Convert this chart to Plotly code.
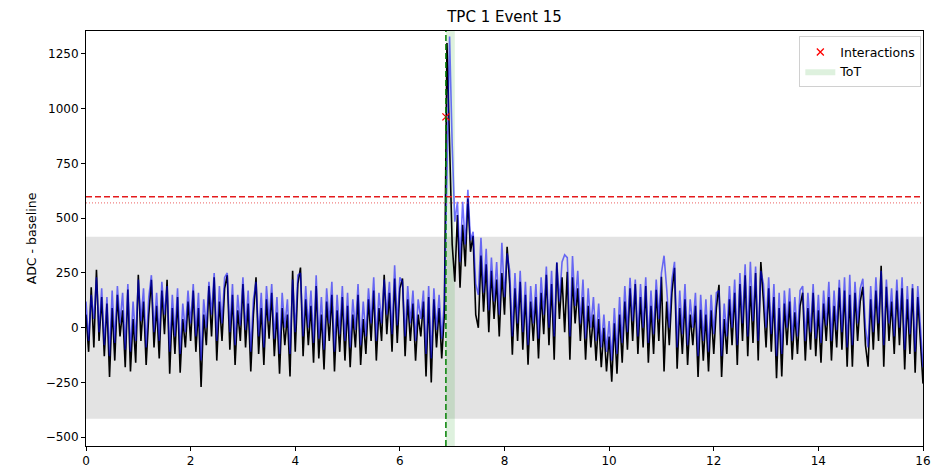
import plotly.graph_objects as go

# sampling of the waveform (µs)
t0 = 0.0
dt = 0.05

black_adc = [
    60, -110, 185, -90, 265, -60, 140, -130, 110, -225, 90, -150, 150, -40, 80, -180, 175, -200, 40, -160,
    242, -60, 120, -170, 60, 219, -90, 100, -140, 170, -30, 219, -210, 90, -120, 140, -205, 40, -90, 120,
    -60, 170, -110, 90, -270, 60, -80, 190, -40, 230, -150, 120, -60, 180, 240, -100, 150, -170, 80, -60,
    200, -90, 110, -200, 60, 230, -120, 90, -170, 130, -50, 160, -130, 70, -210, 90, -80, 60, -223, 260,
    -110, 200, 275, -130, 130, -80, 100, -160, 190, -140, 60, -190, 120, -60, 150, -200, 80, -110, 140, -150,
    100, -180, 60, -90, 150, -170, 40, -120, 130, -60, 170, -150, 90, -60, 242, -30, 160, -110, 225, -70,
    180, 225, -130, 130, -60, 110, -150, 60, -40, 120, -223, 140, -250, 130, -90, 90, -140, 60, 1300, 880,
    380, 210, 515, 183, 470, 280, 590, 347, 420, 60, 0, 330, 73, 290, -20, 260, 40, 220, -40, 250,
    60, 370, 200, -123, 180, -60, 210, -100, 150, -169, 120, -60, 140, -140, 160, -30, 242, -80, 200, -146,
    297, 40, 230, -20, 255, -146, 230, 20, 180, -60, 140, -146, 100, -90, 60, -150, 40, -180, 0, -200,
    -40, -246, 20, -210, 60, -160, 120, -100, 180, -60, 200, -120, 140, -90, 190, -160, 100, -120, 173, -60,
    233, -200, 120, -80, 160, 274, -187, 90, -120, 130, -170, 60, -80, 100, -225, 82, -150, 60, -200, 80,
    -120, 90, 196, -225, 40, -120, 130, -80, 160, -170, 200, -60, 240, -130, 190, -70, 250, -150, 300, 120,
    -90, 180, -110, 140, -230, 90, -223, 110, -80, 120, -146, 70, -120, 100, 160, -150, 90, -100, 160, -130,
    80, -160, 110, -60, 140, -150, 100, -90, 183, -100, 170, -178, 150, -178, 160, -60, 120, 187, -80, -178,
    130, -100, 170, -60, 283, -178, 187, -60, 120, -120, 170, -80, 180, -190, 130, -120, 180, -205, 140, -60,
    -255,
]

blue_adc = [
    120, -60, 150, 40, 230, -20, 180, -80, 140, -130, 170, -70, 190, 20, 160, -100, 200, -110, 120, -60,
    220, 30, 180, -90, 140, 240, -20, 160, -60, 210, 60, 190, -110, 150, -40, 180, -120, 110, -20, 170,
    20, 200, -40, 160, -150, 130, 0, 210, 60, 250, -60, 190, 20, 230, 250, -20, 200, -80, 150, 10,
    230, -10, 170, -110, 130, 210, -40, 160, -90, 190, 30, 200, -50, 140, -120, 160, 0, 130, -120, 220,
    -20, 240, 250, -40, 190, 0, 170, -70, 240, -50, 140, -100, 180, 20, 210, -110, 150, -30, 190, -60,
    160, -90, 130, -10, 200, -80, 120, -40, 180, 20, 230, -60, 160, 20, 220, 60, 210, -30, 285, 10,
    230, 210, -40, 190, 20, 170, -60, 130, 40, 170, -120, 190, -140, 180, -10, 150, -50, 120, 700, 1330,
    835, 484, 575, 300, 575, 380, 630, 400, 438, 200, 150, 411, 160, 360, 80, 320, 120, 300, 60, 388,
    140, 340, 260, -40, 250, 20, 260, -20, 210, -80, 190, 20, 200, -50, 230, 60, 280, 0, 260, -40,
    300, 120, 300, 333, 320, -40, 327, 100, 260, 20, 220, -50, 180, 0, 140, -60, 110, -90, 60, -110,
    30, -150, 90, -120, 140, -70, 190, -20, 228, 30, 220, -40, 200, 0, 230, -70, 170, -30, 220, 40,
    250, 329, 180, 0, 220, 301, -90, 170, -30, 200, -80, 130, 0, 160, -130, 150, -60, 130, -110, 150,
    -30, 160, 170, -130, 110, -40, 190, 0, 220, -80, 250, 20, 290, -40, 301, 30, 280, -60, 260, 200,
    0, 230, -30, 200, -130, 160, -120, 170, 0, 180, -60, 140, -40, 170, 190, -60, 160, -20, 200, -50,
    150, -70, 170, 10, 210, -60, 170, -10, 219, -20, 230, -90, 242, -80, 210, 20, 180, 224, 0, -90,
    190, -20, 230, 20, 260, -80, 220, 20, 180, -40, 220, 0, 230, -100, 190, -30, 200, -110, 190, 20,
    -180,
]

interaction_t = [6.88]
interaction_adc = [963]

tot_start = 6.88
tot_end = 7.05

noise_band = 415
threshold = 598
threshold_low = 570

x_range = [0, 16]
y_range = [-540, 1355]
x_ticks = [0, 2, 4, 6, 8, 10, 12, 14, 16]
y_ticks = [-500, -250, 0, 250, 500, 750, 1000, 1250]

font = "DejaVu Sans"

fig = go.Figure()

# ToT region (as a filled trace so it appears in the legend)
fig.add_trace(go.Scatter(
    x=[tot_start, tot_end, tot_end, tot_start, tot_start],
    y=[y_range[0], y_range[0], y_range[1], y_range[1], y_range[0]],
    fill="toself", fillcolor="rgba(0,150,0,0.13)",
    line=dict(width=0), mode="lines", name="ToT", hoverinfo="skip",
    legendrank=2,
))

fig.add_trace(go.Scatter(
    x0=t0, dx=dt, y=black_adc, mode="lines",
    line=dict(color="black", width=1.6), showlegend=False,
))
fig.add_trace(go.Scatter(
    x0=t0, dx=dt, y=blue_adc, mode="lines",
    line=dict(color="rgba(0,0,255,0.55)", width=1.6), showlegend=False,
))
fig.add_trace(go.Scatter(
    x=interaction_t, y=interaction_adc, mode="markers",
    marker=dict(symbol="x-thin", size=7, line=dict(color="red", width=1.3), color="red"),
    name="Interactions", legendrank=1,
))

# grey noise band
fig.add_shape(type="rect", xref="paper", x0=0, x1=1, yref="y", y0=-noise_band, y1=noise_band,
              fillcolor="rgba(128,128,128,0.22)", line=dict(width=0), layer="below")
# thresholds
fig.add_shape(type="line", xref="paper", x0=0, x1=1, yref="y", y0=threshold, y1=threshold,
              line=dict(color="#e41a1c", width=1.5, dash="6px,3px"))
fig.add_shape(type="line", xref="paper", x0=0, x1=1, yref="y", y0=threshold_low, y1=threshold_low,
              line=dict(color="rgba(228,26,28,0.55)", width=1.2, dash="1px,2px"))
# interaction vertical line
fig.add_shape(type="line", xref="x", x0=tot_start, x1=tot_start, yref="paper", y0=0, y1=1,
              line=dict(color="green", width=1.5, dash="6px,3px"))

fig.update_layout(
    width=933, height=468,
    margin=dict(l=86, r=10, t=31, b=22, autoexpand=False),
    paper_bgcolor="white", plot_bgcolor="white",
    font=dict(family=font, size=12, color="black"),
    title=dict(text="TPC 1 Event 15", xref="paper", x=0.5, xanchor="center", y=0.964, yanchor="middle",
               font=dict(family=font, size=15, color="black")),
    legend=dict(x=0.998, xanchor="right", y=0.987, yanchor="top",
                bgcolor="rgba(255,255,255,0.9)", bordercolor="#d0d0d0", borderwidth=1,
                font=dict(family=font, size=12.5), tracegroupgap=0, itemwidth=30),
    showlegend=True,
)
fig.update_xaxes(range=x_range, tickvals=x_ticks, showgrid=False, zeroline=False,
                 showline=True, linecolor="black", linewidth=1, mirror=True,
                 ticks="outside", ticklen=4, tickcolor="black", automargin=False)
fig.update_yaxes(range=y_range, tickvals=y_ticks, showgrid=False, zeroline=False,
                 showline=True, linecolor="black", linewidth=1, mirror=True,
                 ticks="outside", ticklen=4, tickcolor="black", automargin=False,
                 title=dict(text="ADC - baseline", standoff=6, font=dict(family=font, size=12.5)))

fig.write_html("out.html")
